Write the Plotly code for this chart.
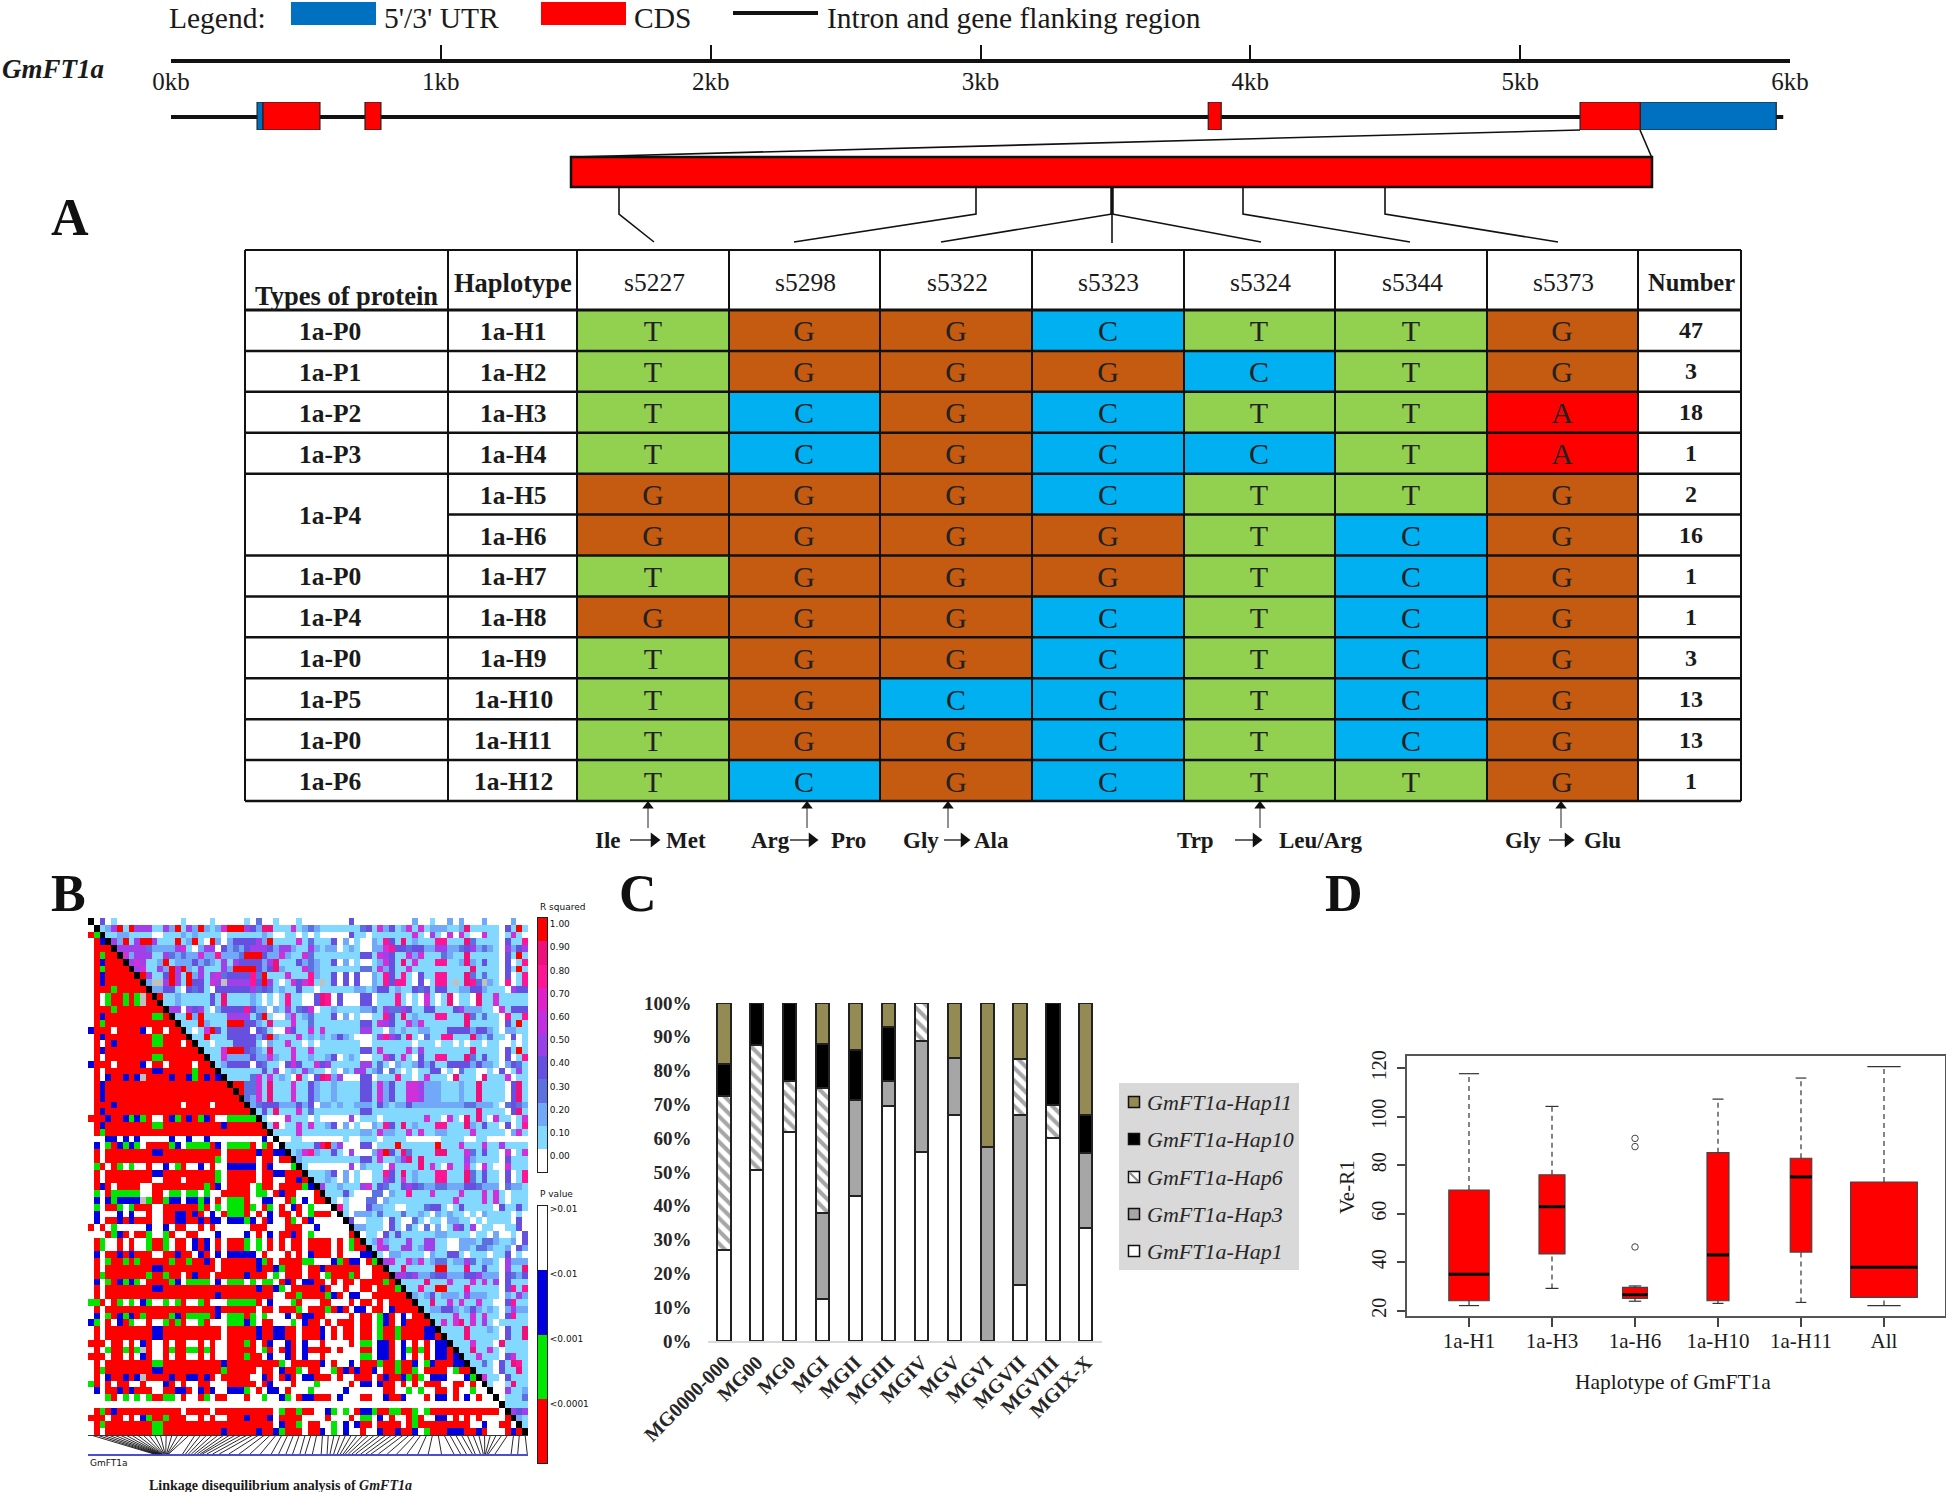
import plotly.graph_objects as go

W, H = 1946, 1492
SERIF = "Liberation Serif"
SANS = "DejaVu Sans"
INK = "#1a1a1a"

# ---------- gene model (kb) ----------
RULER_TICKS = [0, 1, 2, 3, 4, 5, 6]
RULER_LABELS = ["0kb", "1kb", "2kb", "3kb", "4kb", "5kb", "6kb"]
GENE_SPAN = [0.0, 5.975]
UTR_SEGMENTS = [(0.319, 0.341), (5.445, 5.949)]
CDS_SEGMENTS = [(0.341, 0.552), (0.719, 0.778), (3.844, 3.892), (5.222, 5.445)]

# ---------- haplotype table ----------
SITES = ["s5227", "s5298", "s5322", "s5323", "s5324", "s5344", "s5373"]
HAPLOTYPES = ["1a-H1", "1a-H2", "1a-H3", "1a-H4", "1a-H5", "1a-H6",
              "1a-H7", "1a-H8", "1a-H9", "1a-H10", "1a-H11", "1a-H12"]
BASES = ["TGGCTTG", "TGGGCTG", "TCGCTTA", "TCGCCTA", "GGGCTTG", "GGGGTCG",
         "TGGGTCG", "GGGCTCG", "TGGCTCG", "TGCCTCG", "TGGCTCG", "TCGCTTG"]
PROTEINS = ["1a-P0", "1a-P1", "1a-P2", "1a-P3", "1a-P4", "1a-P0", "1a-P4",
            "1a-P0", "1a-P5", "1a-P0", "1a-P6"]
PROTEIN_ROWS = [0, 1, 2, 3, 4.5, 6, 7, 8, 9, 10, 11]
NUMBERS = [47, 3, 18, 1, 2, 16, 1, 1, 3, 13, 13, 1]
BASE_COLORS = {"T": "#92D050", "G": "#C55A11", "C": "#00B0F0", "A": "#FF0000"}
SUBSTITUTIONS = [("Ile", "Met", 648, 608, 686, 630, 658), ("Arg", "Pro", 807, 770, 848, 790, 816),
                 ("Gly", "Ala", 948, 921, 991, 944, 968), ("Trp", "Leu/Arg", 1260, 1195, 1321, 1235, 1260),
                 ("Gly", "Glu", 1561, 1523, 1602, 1549, 1572)]

# ---------- panel B: LD matrix ----------
LD_LOWER_LEFT = [
"", "W", "RG", "WRB", "WRRR", "WRGRR", "WRBRRR", "WRGRRRR", "WRBRRRRR", "WRBRRRRRR", "WRRRGRRRRR",
"WRWGRRGRGSR", "WRWGRRGRGSRR", "WRRRGRRRRRRRR", "WRBRRRRRRRRGGR", "WRGRRRRRRRRRRRR",
"BRRRWRRRRBWRRWRR", "WRBRRRRRRRRGGRRRR", "WRWRBRRRRRRGGRRRWR", "WRBRRRRRRRRRRRRRRRR",
"WRWRRRRRRRRGGRRRRRRR", "BRRRWRRRRBWRRWRRRRWRR", "WRWRRRRRRRRBBRRRRRGRRR", "WRWBRRBRBSRRRRBRRBGRBRB",
"WRBRRRRRRRRRRRRRRRRRRRRR", "WRBRRRRRRRRRRRRRRRRRRRRRR", "WRBRRRRRRRRRRRRRRRRRRRRRRR",
"WRRRBRRRRRRRRRRRWRRRRWRRRRR", "WRBRRRRRRRRRRRRRRRRRRRRRRRRR",
"RRRBRRBGBGRWWRBGRBRGBRWWGGGGG", "WRBRRRRRRRRGGRRRRRRRRRRBRRRRRR", "WRGRRRRRRRRRRRRRRRRRRRRRRRRRRRR",
"WWWBBWBWBWWWWWBWWBWWBWWWWWWWWWBW", "WBWGRBGBGWRRRRGBWGGGGRBWGGGGRWGRW", "WRWRRRRRRRRBBRRRRRRRRRRWRRRRRBRRBB",
"WRWRRRRRRRRRRRRRRRRRRRGWRRRRRWRRWRR", "WGRWRGWGWWRWWBWGRWWBWRWWBBBBBWRBWWWG", "WRWRRRRRRRRBBRRRRRRRRRGWRRRRRWRRBBRRR",
"WRWRRRRRRRRWWRRRWRRRRRGWRRRRRWRRWWRRBR", "WRBRWRRRRWWRRRRRRRRRGRBWRRRRWGRRWRRRRG",
"WGWRGGGGGWWRRWGGWGGWGWWRRRRRWGGWRBRRWW", "WBWBGBBBBSGRRGBBWBBGBWRWGGGRWWBBWWRGWB",
"WGWRRGWGRRRWWRRRRRRGRWGWGGGRGWRGWRWBRW", "WBWWWBWBWWRWWRRBBRBRWBWRGGGRWRWBWRRWRW",
"WBWRRBRBRRRWWRRBBRRBRBBWBBBGBWRBWWRGWR", "RWRWGWWWWWBWWBWRRWWRWRWWWWWWRRRWWWRRRW",
"WWWRGBRWRRGWWGRWWRRWWWBWWWWBWRWBWRRBRW", "WRGWWRWRWWGRRGWRRWBRBWRWRRRGWGWRWRWRRW",
"WRGWWRWRWWGRRGWRRWBRBWRWRRRGWGWRWRWRRW", "WBWRRBRBRRRWWRRBRRWBRWBWBBBBBWRWWWRWRW",
"WRWGRRGRGRRRRRGRRGRRBRWRRRRRRBGRWRRRRG", "WRWRRRRRRRRBBRRRRRRRRRWRRRRRRBRRBGRRRW",
"WRGRRRRRRRGRRGRRWRBRRWRRRRRBRRRWGWRRRW", "WBWGRBGBGWRRRRGBWGGGGWBWGGGWGWGGWRBRWB",
"WRWRRRRRRRRBBRRRRRRRRRRRRRRRRBRRBGWRRR", "WRWRRRRRRRRRRRRRRRRRRRBRRRRRRRRRWWRRGR",
"GGRWRGWGWBGWWGWGRWWGRWWWGGGGGRWBWWWGRW", "WRWRRRRRRRRRRRRRRRRRRRBRRRRRRWRRWRRRGW",
"WBWGRBGBRGRRRRGBRGGGGRBWGGGRGWGWWWBWRB", "BGWRWBRGWWRWWGRGRWWGRWWWGGGBGWRRWWWGWB",
"WRWRRRRRRRRBBRRRRRRRRRRWRRRRRBRRBBRRWR", "WRWRRRRRRRRBBRRRRRRRRRRWRRRRRBRRBBRRWR",
"RRRWRRWRWBRWWRWRRWWRWRWWRRRGRWRBWWBRWB", "WRWGRRGRGSRWWRGRRGGRGRWWRRRRRWGRWRBRWB",
"RRRWRRWRWBRWWRWRRWWRWRWWRRRGRRWBWWBRWB", "WRWRRRRRRRRGGRRRRRRRRRRBRRRRRRRRRGWRRR",
"WRGRRRRRRRRBBRRRRRRRRRRGRRRRRWRRWBRRGW", "WRWBRRBRBSRRRRBRRBBRBRWRRRRRWWBRWRBRWB",
"GRWRWRRWWRWWWBRWRWWRRWWWRRRRRWRBWWWRWW", "WBWRRBRBRRRWWRRBBRWBRBWWBBBGWRWBBWRWWW",
"WWWGRWGWGWGRRGGWRWWRGWRRWWWRWWGWWBGWRB", "WWWWWWWWWWWWWWWWWWWWWWWWWWWWWWWWWWWWWW",
"WRGRBRRRRRRRRRRRWRRRRWRRRRRRRRRRWGRRGR", "RRRWRRWRWBGRRGRRRWWRWRWWRRRBRRRBWRRRRW",
"WRGRRRRRRRRGGRRRRRRRRRRRRRRRRRRRWBRRGW", "WRWRRRRRRRRGGRRRRRRRRRRBRRRRRBRRBGRRRW",
]
LD_LOWER_RIGHT = [
"B", "WR", "WRR", "GWWW", "GRRRW", "BWWWWW", "WBWWWWW", "GWWWWWWR", "RRRRWRWGR", "RRRRWRWGRR", "BRRRWRWWWBB",
"GWWWBGRBBWRG", "RRBRRRRRRWWRR", "RRWGRRRGRWWRRR", "BRRWRWRRWRRRRGR", "RRBRWWRWWRRWRRRG", "RRRGBRWBBWWRRRRRR",
"WWRRWWWRWRRWRWRRRR", "RRRGRBRWBBWRRWBRRRR", "BRRWWWWRWRRWGBRWBWRR", "RRWRWRRRWRRWGBRWBRRRR",
"RRBWRWRRWRRWGRRGRRRRBB", "RRBWRWRRWRRWGRRGRRRRBBR", "WWRWWWWRWGGWBBRWBWRWRWBB", "RRRRWRWWWRRWBBRWBGRGRWBBR",
"WWRWWWWWWGGWBBRWBWRWRWBBRB", "RRBWRWWBWRRRGRRGRRBWGBRRRBB", "RRWWGRBRBRRBWRRGRRGWRRRRWGRR", "BRRRWRWWRRRWRBRRBGRGWBBBWWWBG",
"WGWWWWWRWBBWBRRWRWRWRRRWWRRWRW", "GWWWWWBWWWWWWRRWWGWGWWRRWRWWGWW", "BRRRWBWWWRRWWBRRBWWWRWBBWRWBWRWW",
"WWWWWWWWWWWWWWWWWWWWWWWWWWWWWWWWW", "RWWBGWGWRBBGRRGGRRGWGRRRRRRRRRRRRW", "WWWRWWWRWGGWBWRWWRGRWWBBWRWRWRWWWWR",
"RRWWGWBWBRRWRRRRWRGRRRRRRRRRWWBWWRR", "RRBWGWBWWRWWBRRBRRBWGRRRBBBRRBRWWWRBR",
]
LD_UPPER_LEFT = [
"wdwawwwwwwwwwwwawwwwawwwwwawcwwawwwaw", "aberareeeaaebraebrbabfrrredbggaaafab", "aabbaaaawwaaababaaaawaaaaaabawwaawa",
"ebraerreaaarabrawrbwbddddebraaaafa", "eeeeecbbbbefawbeewdbcbdeeedbeebaa", "fbeeeaaecbcbbfbbhbbbcrrrdbbfbaaf",
"efeaabrabbbdbcbaeaeddddbegaaadb", "efaaebrerbaeaaaebrrrrdbdgbaaaf", "reaadrearbeaefcddddhcraaafaaa", "bSSerearddafeSeeeehdreawafdf",
"bbddawdcdawddddddecdcabaada", "raabaaaaadagaaaabawawahaaw", "aabaaaaadagaaaabawawahaaw", "eewedeawbddddhdbbwbaeacd",
"aarbraaaaeeeeacrawwbfab", "aaarbaaarrrddbagaaafaa", "awafrdaddddwdcawwfdaa", "aaraaadddddbdrbaaafa", "aawaaaddddawbaafaaw",
"aaafrrrdcbagaaafaa", "aafbbbbdbbfbaafaa", "abddddwdcaawdfda", "aaaaaaadaewabae", "aaaacfafabawga", "rrccfagaaafaa", "rccfagaaafaa",
"cbfagaaafaa", "bcdddbbbdb", "adagaaafa", "awwwfaaa", "agwaafa", "aaaafa", "wwaaw", "aaaa", "abf", "ba", "a", "",
]
LD_UPPER_RIGHT = [
"wwwwwwwdwwwwwwwwwwbwwawwbwbwwwbwwwwbww", "cbaaaaaaacdafbdabfafabbbaabgaaaaawdara", "wawwwwwdaawaaaaaaafaweawfwfawwfaawafaw",
"caaadwbwawwbahdagabaaahhaaagcaaaawdaah", "ebabbwabawwbbfhddcddbbeebbcdebcbawebde", "caaaaaaaaddafedaafbfaaacbaagaaaaawdara",
"cbaadwbwawwabfdagafaaahhaabgbadaawdwah", "cbaaaaaaaccafbdaafaaaaaaaaaagaaaawdara", "hbaadwdwdwwbahdahawdaahhaaagcacaawdwah",
"haSadwdwdwwbahdhhawdwahhaSaghcSbawhwah", "awaaaaaabbabddabaadcdaddaabbddbaaawedd", "wdghwdwwwddwaaahawawfawagwaawgaafaaaaa",
"wdghwdwwwddwaaahawawfawagwaawgaafaaaaa", "fwaabaaaabbcaeccedaaddaaadebbbaawfaddd", "caaadwbwawwaahdagabaaahhaaagcacaawhaah",
"caaaaaaaaddafedaafbfaaaaaaagaaaaawdara", "fafaaaaaaeeaawbabaabbaaaddddbddbawbbaa", "bababdbawwwaehedagawcaahhaaagbacaawdwa",
"awaaaaaaawwaaaaaaawaaawaawawaawaawwawa", "faaaaaaaaddafaaaafaeaaaaaaaagaaaawdara", "baabdwabawwaafdafawdaahhaaagcadaawdwah",
"afdeaaaaaeeacawbaabdbdaaddddbdbbawbdca", "baawawbaeeabcwcawawaaddwawcaawwawdwaea", "wdghbewwwddwaaahaawafaaawgaaawgaaafwaa",
"dbaabaaaaddafbdaaffebbbaaabaagaaaawdga", "dbaabaaaaddafbdaaffebbbaaabaagaaaawdga", "dbaabaaaaddafbdaaffebbbaaabaagaaaawdga",
"dwbbabaabbbadbabbdbbbbbbbbbccbbbawcdcb", "caaaaaaaaddaaaaaaaaaaaaaaaaaagaaaawdga", "wawwwwwewaaawaaaaaaafaawfawgagawfaawaf",
"faabdwbwawwbahdagabaaahhaaagbadaawdwah", "aaaaaaaaabbafbbaafafaabbaaaafaaaaawbfa", "wwwwwwawwaaawaaaawwwwwwaaaawwaawwwwwww",
"adgrbewwwddwaaaraaaaaaraaafaaafaaeaaaa", "hbaadawewwwbfrdagcaaaaggaaafcadaawfwaf", "aaaaaaaaaddafaabegagaaaaaaaebaaaawdaaa",
"wwwwwwwewbaaawfaaaagafawfaafawfawwfaaa", "aaabdwbwawwaahdagabaaahhaaagcadaawdwah", "aabawbwawwaaedafabaaahhaaagcadaawdwah",
"eaabaaaefadcaadedcbbccbbbddcbbbwcbba", "adawwwccwbaahaaafaaaafaaafafawaaa", "awawwwccwbaaaaaaaaaaafaaaafafawaaa",
"hawwwdbbaawwaaacddawadaaaaawdaada", "awbbbacaaacaabawbabaawawbaaaawaw", "dwwaaawdawwcawaawbbaawawaaaawdw", "bbaaawdawcawcwbwaedaewaawwaadw",
"fwaawdadaaaaaabbaaaawaawbwwawd", "abfbaaaeaaeeaawwbbbaccbaabwd", "afeaaeeabeeaawwbbaccbaabwdb", "awbbaaaawbaaddawaaawaadwaw",
"efaafbfabccabbecabbawebbb", "aagaaaaarraaagaadaaweaag", "eedebbcddbbbddebbbwdcbd", "aaaagaaafaaafafaewdaaa", "aahaarraaahaaaaawdhah",
"babdabbbaebbbaawbaeb", "aagaafafaafaawwdhaa", "abbddbabdbabawbebb", "aaaafaafafaawdhaa", "afafgafaeawaaaaa", "aaaagaaabawdaag",
"aaagaaaaawdaag", "aaafaaawgaaaa", "aagaafawaaaa", "aafaaawdfaa", "aacawdagha", "aaawdaaga", "faawdaaa", "awwagaa", "wweaab", "waaac", "aaaa", "ede", "ba", "a", "",
]
LD_COLORS = {"W": "#FFFFFF", "R": "#FF0000", "G": "#00E600", "B": "#0000E0", "K": "#000000", "S": "#C0C0C0",
             "w": "#FFFFFF", "a": "#82D8FF", "b": "#72A8F8", "c": "#5C70E0", "d": "#6650E0", "e": "#A040E8",
             "f": "#D030D8", "h": "#FF1493", "g": "#F0107A", "r": "#FF0000"}
SNP_KB = [.90, .92, .94, .955, .97, .98, .99, 1.00, 1.01, 1.02, 1.03, 1.04, 1.05, 1.06, 1.07, 1.08, 1.09, 1.10,
          1.29, 1.33, 1.37, 1.41, 1.45, 1.49, 1.53, 1.56, 1.62, 1.70, 1.79, 1.92, 2.06, 2.21, 2.35, 2.50,
          2.60, 2.70, 2.79, 2.89, 2.96, 3.06, 3.18, 3.26, 3.30, 3.35, 3.40, 3.44, 3.48, 3.51, 3.55, 3.60, 3.65,
          3.72, 3.79, 3.86, 3.96, 4.08, 4.21, 4.35, 4.50, 4.64, 4.82, 4.99, 5.08, 5.16, 5.24, 5.28, 5.35, 5.39,
          5.41, 5.42, 5.44, 5.46, 5.55, 5.77, 5.86, 5.99]
R2_EDGES = [1.026, .925, .825, .724, .623, .527, .43, .33, .23, .13, .03, -.069]
R2_BAND_COLORS = ["#FF0000", "#F0107A", "#FF1493", "#E020C8", "#C030E0", "#9A40E8", "#6650E0", "#5C70E0", "#72A8F8", "#82D8FF", "#FFFFFF"]
R2_TICKS = [1.0, .9, .8, .7, .6, .5, .4, .3, .2, .1, 0.0]
P_LABELS = [">0.01", "<0.01", "<0.001", "<0.0001"]
P_LABEL_POS = [3.95, 2.94, 1.93, .92]
P_BAND_COLORS = ["#FF0000", "#00E600", "#0000E0", "#FFFFFF"]

# ---------- panel C ----------
MG = ["MG0000-000", "MG00", "MG0", "MGI", "MGII", "MGIII", "MGIV", "MGV", "MGVI", "MGVII", "MGVIII", "MGIX-X"]
HAP1 = [27, 50.5, 61.7, 12.5, 43, 69.5, 55.8, 67, 0, 16.7, 60, 33.5]
HAP3 = [0, 0, 0, 25.4, 28.4, 7.5, 33.1, 16.7, 57.3, 50.3, 0, 22]
HAP6 = [45.5, 37, 15.3, 37.1, 0, 0, 11.1, 0, 0, 16.5, 9.9, 0]
HAP10 = [9.5, 12.5, 23, 12.9, 14.6, 15.8, 0, 0, 0, 0, 30.1, 11.5]
HAP11 = [18, 0, 0, 12.1, 14, 7.2, 0, 16.3, 42.7, 16.5, 0, 33]
PCT_TICKS = list(range(0, 101, 10))
LEGEND_ITEMS = ["GmFT1a-Hap11", "GmFT1a-Hap10", "GmFT1a-Hap6", "GmFT1a-Hap3", "GmFT1a-Hap1"]
LEGEND_COLORS = ["#948A54", "#000000", "#FFFFFF", "#A6A6A6", "#FFFFFF"]
LEGEND_Y = [1102, 1139, 1177, 1214, 1251]

# ---------- panel D ----------
BOX_LABELS = ["1a-H1", "1a-H3", "1a-H6", "1a-H10", "1a-H11", "All"]
BOX_LOW = [22.1, 29.2, 23.9, 23.0, 23.4, 22.1]
BOX_Q1 = [24.1, 43.4, 25.1, 24.1, 44.2, 25.5]
BOX_MED = [35.0, 62.9, 26.6, 43.0, 75.2, 37.9]
BOX_Q3 = [69.8, 76.1, 29.6, 85.2, 82.9, 73.1]
BOX_HIGH = [117.8, 104.3, 30.2, 107.3, 116.0, 120.7]
BOX_WIDTHS = [.486, .313, .30, .265, .259, .804]
OUTLIER_X = [2, 2, 2]
OUTLIER_Y = [91.1, 87.7, 46.3]


def dx(a, b):
    return [a / W, b / W]


def dy(top, bottom):
    return [1 - bottom / H, 1 - top / H]


fig = go.Figure()
hidden = dict(visible=False, fixedrange=True)
axes = dict(
    xaxis=dict(domain=[0, 1], range=[0, W], **hidden),
    yaxis=dict(domain=[0, 1], range=[H, 0], **hidden),
    xaxis2=dict(domain=dx(171, 1790), range=[0, 6], anchor="free", position=1 - 61 / H, side="bottom",
                tickvals=RULER_TICKS, ticktext=RULER_LABELS, ticks="inside", ticklen=14, tickwidth=2,
                tickcolor="#111", showline=True, linewidth=4, linecolor="#111", showgrid=False, zeroline=False,
                tickfont=dict(family=SERIF, size=25, color=INK), ticklabelstandoff=-3, fixedrange=True),
    yaxis2=dict(domain=dy(102, 130), range=[0, 1], anchor="x2", **hidden),
    xaxis3=dict(domain=dx(577, 1638), anchor="y3", **hidden),
    yaxis3=dict(domain=dy(310, 801), anchor="x3", autorange="reversed", visible=False, fixedrange=True),
    xaxis4=dict(domain=dx(88, 528), anchor="y4", range=[-.5, 75.5], **hidden),
    yaxis4=dict(domain=dy(918, 1435), anchor="x4", range=[75.5, -.5], **hidden),
    xaxis5=dict(domain=dx(537.5, 547), anchor="y5", range=[0, 1], showticklabels=False, ticks="", showgrid=False,
                zeroline=False, mirror=True, showline=True, linecolor="#222", linewidth=1, fixedrange=True),
    yaxis5=dict(domain=dy(918, 1172), anchor="x5", side="right", range=[-.069, 1.026], tickvals=R2_TICKS,
                ticktext=["%.2f" % v for v in R2_TICKS], tickfont=dict(family=SANS, size=9, color="#111"), ticks="",
                showgrid=False, zeroline=False, mirror=True, showline=True, linecolor="#222", linewidth=1, fixedrange=True),
    xaxis6=dict(domain=dx(537.5, 547), anchor="y6", range=[0, 1], showticklabels=False, ticks="", showgrid=False,
                zeroline=False, mirror=True, showline=True, linecolor="#222", linewidth=1, fixedrange=True),
    yaxis6=dict(domain=dy(1206, 1463), anchor="x6", side="right", range=[0, 4], tickvals=P_LABEL_POS,
                ticktext=P_LABELS, tickfont=dict(family=SANS, size=9, color="#111"), ticks="",
                showgrid=False, zeroline=False, mirror=True, showline=True, linecolor="#222", linewidth=1, fixedrange=True),
    xaxis7=dict(domain=dx(707.5, 1102.3), anchor="y7", range=[-.5, 11.5], tickvals=list(range(12)), ticktext=MG,
                tickangle=-45, tickfont=dict(family=SERIF, size=20, color="#262626", weight=700), ticks="",
                showline=True, linecolor="#D9D9D9", linewidth=2, showgrid=False, zeroline=False, fixedrange=True),
    yaxis7=dict(domain=dy(1003, 1341), anchor="x7", range=[0, 100], tickvals=PCT_TICKS,
                ticktext=["%d%%" % v for v in PCT_TICKS], tickfont=dict(family=SERIF, size=19, color="#262626", weight=700),
                ticks="", showgrid=False, zeroline=False, ticklabelstandoff=15, fixedrange=True),
    xaxis8=dict(domain=dx(1407, 1945), anchor="y8", range=[-.747, 5.735], tickvals=list(range(6)), ticktext=BOX_LABELS,
                tickfont=dict(family=SERIF, size=21, color=INK), ticks="outside", ticklen=9, tickwidth=1.5, tickcolor="#444",
                ticklabelstandoff=-4, showline=True, mirror=True, linecolor="#555", linewidth=1.5, showgrid=False,
                zeroline=False, fixedrange=True),
    yaxis8=dict(domain=dy(1056, 1316), anchor="x8", range=[17.8, 125.1], tickvals=[20, 40, 60, 80, 100, 120], tickangle=-90,
                tickfont=dict(family=SERIF, size=20, color=INK), ticks="outside", ticklen=8, tickwidth=1.5, tickcolor="#444",
                ticklabelstandoff=3, showline=True, mirror=True, linecolor="#555", linewidth=1.5, showgrid=False,
                zeroline=False, fixedrange=True),
)
for ax in axes.values():
    ax["automargin"] = False


def stepped(colors):
    n = len(colors)
    out = []
    for i, c in enumerate(colors):
        out += [[i / n, c], [(i + 1) / n, c]]
    return out


# ---- gene model through its kb axis
fig.add_trace(go.Scatter(x=GENE_SPAN, y=[.46, .46], xaxis="x2", yaxis="y2", mode="lines",
                         line=dict(color="#111", width=4), hoverinfo="skip"))
for segs, col in ((UTR_SEGMENTS, "#0070C0"), (CDS_SEGMENTS, "#FF0000")):
    for s, e in segs:
        fig.add_trace(go.Scatter(x=[s, s, e, e, s], y=[0, 1, 1, 0, 0], xaxis="x2", yaxis="y2", mode="lines", fill="toself",
                                 fillcolor=col, line=dict(color="#222", width=1.2), hoverinfo="skip"))

# ---- table cells
base_keys = list(BASE_COLORS)
fig.add_trace(go.Heatmap(
    x=SITES, y=HAPLOTYPES, z=[[base_keys.index(b) for b in row] for row in BASES],
    text=[list(row) for row in BASES], texttemplate="%{text}", textfont=dict(family=SERIF, size=30, color="#222"),
    colorscale=stepped([BASE_COLORS[k] for k in base_keys]), zmin=-.5, zmax=3.5, showscale=False,
    xaxis="x3", yaxis="y3", hoverinfo="skip"))

# ---- LD matrix
N = 76
ld_chars = []
for r in range(N):
    left = LD_LOWER_LEFT[r][:min(r, 38)].ljust(min(r, 38), "W")
    if r > 38:
        left += LD_LOWER_RIGHT[r - 39][:r - 38].ljust(r - 38, "W")
    slots = N - r - 1
    if r < 37:
        ua = LD_UPPER_LEFT[r][:37 - r].ljust(37 - r, "a")
        ub = LD_UPPER_RIGHT[r][:38].ljust(38, "a")
        right = ua + ub
    else:
        right = LD_UPPER_RIGHT[r][-slots:].rjust(slots, "a") if slots else ""
    ld_chars.append(left + "K" + right)
ld_keys = list(LD_COLORS)
fig.add_trace(go.Heatmap(z=[[ld_keys.index(ch) for ch in row] for row in ld_chars], xaxis="x4", yaxis="y4",
                         colorscale=stepped([LD_COLORS[k] for k in ld_keys]), zmin=-.5, zmax=len(ld_keys) - .5,
                         showscale=False, hoverinfo="skip"))
fig.add_trace(go.Heatmap(x=[0, 1], y=R2_EDGES[::-1], z=[[i] for i in range(len(R2_BAND_COLORS))][::-1],
                         colorscale=stepped(R2_BAND_COLORS), zmin=-.5, zmax=len(R2_BAND_COLORS) - .5,
                         showscale=False, xaxis="x5", yaxis="y5", hoverinfo="skip"))
fig.add_trace(go.Heatmap(x=[0, 1], y=[0, 1, 2, 3, 4], z=[[i] for i in range(4)],
                         colorscale=stepped(P_BAND_COLORS), zmin=-.5, zmax=3.5,
                         showscale=False, xaxis="x6", yaxis="y6", hoverinfo="skip"))

# ---- SNP fan under the LD matrix
CELL_W = 440 / N
fan_x, fan_y = [], []
for c, kb in enumerate(SNP_KB):
    fan_x += [88 + CELL_W * (c + .5), 88 + 440 * kb / 6, None]
    fan_y += [1435, 1454, None]
fig.add_trace(go.Scatter(x=fan_x, y=fan_y, mode="lines", line=dict(color="#111", width=.9), hoverinfo="skip"))
fig.add_trace(go.Scatter(x=[88, 528], y=[1455, 1455], mode="lines", line=dict(color="#1010C8", width=1.5), hoverinfo="skip"))
fig.add_trace(go.Scatter(x=[88, 528], y=[1435.5, 1435.5], mode="lines", line=dict(color="#333", width=1), hoverinfo="skip"))

# ---- stacked bars
series = [(HAP1, "#FFFFFF", None), (HAP3, "#A6A6A6", None), (HAP6, "#FFFFFF", "\\"), (HAP10, "#000000", None), (HAP11, "#948A54", None)]
for vals, col, pat in series:
    marker = dict(color=col, line=dict(color="#222", width=2))
    if pat:
        marker["pattern"] = dict(shape=pat, fgcolor="#A6A6A6", bgcolor="#FFFFFF", size=9, solidity=.45)
    fig.add_trace(go.Bar(x=list(range(12)), y=vals, width=.4, marker=marker, xaxis="x7", yaxis="y7", hoverinfo="skip"))

# ---- manual legend of panel C
fig.add_trace(go.Scatter(x=[1134] * 5, y=LEGEND_Y, mode="markers", hoverinfo="skip",
                         marker=dict(symbol="square", size=11, color=LEGEND_COLORS, line=dict(color="#111", width=1.5))))
fig.add_trace(go.Scatter(x=[1134], y=[LEGEND_Y[2]], mode="markers", hoverinfo="skip",
                         marker=dict(symbol="line-nw", size=9, line=dict(color="#888", width=2))))

# ---- box plots
for i in range(6):
    fig.add_trace(go.Box(x=[i], q1=[BOX_Q1[i]], median=[BOX_MED[i]], q3=[BOX_Q3[i]], lowerfence=[BOX_Q1[i]], upperfence=[BOX_Q3[i]],
                         width=BOX_WIDTHS[i], fillcolor="#FF0000", line=dict(color="#444", width=1.2), whiskerwidth=0,
                         xaxis="x8", yaxis="y8", hoverinfo="skip", boxpoints=False))
wx, wy, cx, cy, mx, my = [], [], [], [], [], []
for i in range(6):
    half = BOX_WIDTHS[i] / 2
    wx += [i, i, None, i, i, None]
    wy += [BOX_LOW[i], BOX_Q1[i], None, BOX_Q3[i], BOX_HIGH[i], None]
    cx += [i - half / 2, i + half / 2, None, i - half / 2, i + half / 2, None]
    cy += [BOX_LOW[i], BOX_LOW[i], None, BOX_HIGH[i], BOX_HIGH[i], None]
    mx += [i - half, i + half, None]
    my += [BOX_MED[i], BOX_MED[i], None]
fig.add_trace(go.Scatter(x=wx, y=wy, xaxis="x8", yaxis="y8", mode="lines", line=dict(color="#333", width=1.2, dash="5px,4px"), hoverinfo="skip"))
fig.add_trace(go.Scatter(x=cx, y=cy, xaxis="x8", yaxis="y8", mode="lines", line=dict(color="#333", width=1.2), hoverinfo="skip"))
fig.add_trace(go.Scatter(x=mx, y=my, xaxis="x8", yaxis="y8", mode="lines", line=dict(color="#000", width=3), hoverinfo="skip"))
fig.add_trace(go.Scatter(x=OUTLIER_X, y=OUTLIER_Y, xaxis="x8", yaxis="y8", mode="markers", hoverinfo="skip",
                         marker=dict(symbol="circle-open", size=6.5, color="#444", line=dict(width=1))))

# ---- schematic connectors
TOP_CDS = (571, 1652, 157, 187)
ZOOM_LINES = [[(1580, 130), (574, 157)], [(1640, 130), (1652, 158)]]
SITE_LINES = [[(619, 187), (619, 214), (654, 242)], [(976, 187), (976, 214), (794, 242)],
              [(1112, 214), (941, 242)], [(1112, 214), (1112, 243)], [(1112, 214), (1261, 242)],
              [(1243, 187), (1243, 214), (1410, 242)], [(1385, 187), (1385, 214), (1558, 242)]]
lx, ly = [], []
for poly in ZOOM_LINES + SITE_LINES:
    lx += [p[0] for p in poly] + [None]
    ly += [p[1] for p in poly] + [None]
fig.add_trace(go.Scatter(x=lx, y=ly, mode="lines", line=dict(color="#111", width=1.6), hoverinfo="skip"))
fig.add_trace(go.Scatter(x=[1112, 1112], y=[187, 214], mode="lines", line=dict(color="#111", width=3.5), hoverinfo="skip"))

# ---- substitution arrows
for _, _, xa, _, _, a0, a1 in SUBSTITUTIONS:
    fig.add_trace(go.Scatter(x=[xa, xa], y=[828, 808], mode="lines", line=dict(color="#222", width=1), hoverinfo="skip"))
    fig.add_trace(go.Scatter(x=[xa], y=[806], mode="markers", marker=dict(symbol="triangle-up", size=10, color="#111"), hoverinfo="skip"))
    fig.add_trace(go.Scatter(x=[a0, a1 - 5], y=[840, 840], mode="lines", line=dict(color="#666", width=2), hoverinfo="skip"))
    fig.add_trace(go.Scatter(x=[a1 - 4], y=[840], mode="markers", marker=dict(symbol="triangle-right", size=13, color="#111"), hoverinfo="skip"))

# ---- shapes (legend keys, enlarged CDS, table rules)
shapes = []


def rect(x0, y0, x1, y1, fill, line=None, w=0, layer="above"):
    shapes.append(dict(type="rect", xref="x", yref="y", x0=x0, x1=x1, y0=y0, y1=y1, fillcolor=fill, layer=layer,
                       line=dict(color=line or fill, width=w)))


def rule(x0, y0, x1, y1, w=2, color="#111"):
    shapes.append(dict(type="line", xref="x", yref="y", x0=x0, x1=x1, y0=y0, y1=y1, line=dict(color=color, width=w)))


rect(291, 2, 376, 25, "#0070C0")
rect(541, 2, 626, 25, "#FF0000")
rule(733, 13, 818, 13, 4)
rect(TOP_CDS[0], TOP_CDS[2], TOP_CDS[1], TOP_CDS[3], "#FF0000", "#111", 2.5)
rect(1119, 1083, 1299, 1270, "#D9D9D9", layer="below")

COL_EDGES = [245, 448, 577, 729, 880, 1032, 1184, 1335, 1487, 1638, 1741]
TBL_TOP, HDR_BOTTOM, TBL_BOTTOM = 250, 310, 801
ROW_H = (TBL_BOTTOM - HDR_BOTTOM) / 12
for xe in COL_EDGES:
    rule(xe, TBL_TOP, xe, TBL_BOTTOM, 2)
rule(245, TBL_TOP, 1741, TBL_TOP, 2)
rule(245, HDR_BOTTOM, 1741, HDR_BOTTOM, 3)
for i in range(1, 13):
    rule(448 if i == 5 else 245, HDR_BOTTOM + ROW_H * i, 1741, HDR_BOTTOM + ROW_H * i, 2.5)

# ---- text
notes = []


def text(x, y, s, size, bold=False, italic=False, family=SERIF, color=INK, anchor="center", angle=0):
    font = dict(family=family, size=size, color=color)
    if bold:
        font["weight"] = 700
    if italic:
        font["style"] = "italic"
    notes.append(dict(x=x, y=y, xref="x", yref="y", text=s, showarrow=False, xanchor=anchor, yanchor="middle",
                      font=font, textangle=angle))


text(167, 18, "Legend:", 29.5, anchor="left")
text(382, 18, "5'/3' UTR", 29.5, anchor="left")
text(632, 18, "CDS", 29.5, anchor="left")
text(825, 18, "Intron and gene flanking region", 29.5, anchor="left")
text(0, 69, "GmFT1a", 27, bold=True, italic=True, anchor="left")
text(70, 217, "A", 52, bold=True, color="#111")
text(68, 893, "B", 52, bold=True, color="#111")
text(638, 893, "C", 52, bold=True, color="#111")
text(1344, 893, "D", 52, bold=True, color="#111")

text(346, 296, "Types of protein", 26.5, bold=True)
text(513, 283, "Haplotype", 26.5, bold=True)
for j, s in enumerate(SITES):
    text(654 + 151.6 * j, 282, s, 25.5)
text(1691, 282, "Number", 24.5, bold=True)
for p, rr in zip(PROTEINS, PROTEIN_ROWS):
    text(330, HDR_BOTTOM + 1 + ROW_H * (rr + .5), p, 25.5, bold=True)
for i, hp in enumerate(HAPLOTYPES):
    text(513, HDR_BOTTOM + 1 + ROW_H * (i + .5), hp, 25.5, bold=True)
    text(1691, HDR_BOTTOM + ROW_H * (i + .5), str(NUMBERS[i]), 24, bold=True)
for a, b, _, xa, xb, _, _ in SUBSTITUTIONS:
    text(xa, 840, a, 23, bold=True)
    text(xb, 840, b, 23, bold=True)

text(537.5, 907, "R squared", 9, family=SANS, color="#111", anchor="left")
text(537.5, 1194, "P value", 9, family=SANS, color="#111", anchor="left")
text(88, 1463, "GmFT1a", 9, family=SANS, color="#111", anchor="left")
text(147, 1485, "Linkage disequilibrium analysis of <i>GmFT1a</i>", 14, bold=True, anchor="left")

for lab, yy in zip(LEGEND_ITEMS, LEGEND_Y):
    text(1145, yy, lab, 22, italic=True, color="#262626", anchor="left")

text(1673, 1382, "Haplotype of GmFT1a", 21.5)
text(1347, 1187, "Ve-R1", 21, angle=-90)

fig.update_layout(template="none", width=W, height=H, margin=dict(l=0, r=0, t=0, b=0, pad=0), autosize=False,
                  paper_bgcolor="white", plot_bgcolor="rgba(0,0,0,0)", showlegend=False,
                  barmode="stack", bargap=.5, boxmode="overlay", shapes=shapes, annotations=notes,
                  font=dict(family=SERIF), **axes)
fig.write_html("out.html", config=dict(displayModeBar=False),
               post_script="document.body.style.margin='0';document.documentElement.style.overflow='hidden';")
